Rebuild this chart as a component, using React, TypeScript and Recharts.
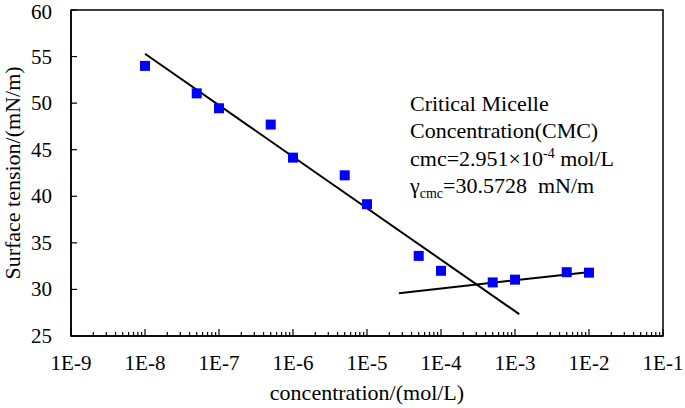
import React from "react";
import {
  ComposedChart,
  Scatter,
  XAxis,
  YAxis,
  ReferenceArea,
  Label,
} from "recharts";

const FONT = '"Liberation Serif", "Times New Roman", serif';

// measured points
const concentration = [1e-8, 5e-8, 1e-7, 5e-7, 1e-6, 5e-6, 1e-5, 5e-5, 1e-4, 5e-4, 1e-3, 5e-3, 1e-2];
const surfaceTension = [54.0, 51.05, 49.45, 47.7, 44.15, 42.25, 39.15, 33.6, 32.0, 30.75, 31.05, 31.85, 31.8];

// fitted lines (end points)
const belowCmcX = [1e-8, 1.14e-3];
const belowCmcY = [55.3, 27.35];
const aboveCmcX = [2.7e-5, 1.11e-2];
const aboveCmcY = [29.6, 31.9];

const decadeValues = [1e-9, 1e-8, 1e-7, 1e-6, 1e-5, 1e-4, 1e-3, 1e-2, 1e-1];
const decadeLabels = ["1E-9", "1E-8", "1E-7", "1E-6", "1E-5", "1E-4", "1E-3", "1E-2", "1E-1"];
const minorSteps = [1, 2, 3, 4, 5, 6, 7, 8, 9];
const yTicks = [25, 30, 35, 40, 45, 50, 55, 60];

const points = concentration.map((x, i) => ({ x, y: surfaceTension[i] }));
const fitA = belowCmcX.map((x, i) => ({ x, y: belowCmcY[i] }));
const fitB = aboveCmcX.map((x, i) => ({ x, y: aboveCmcY[i] }));

const xTicks: number[] = [];
decadeValues.slice(0, -1).forEach((d) => minorSteps.forEach((k) => xTicks.push(k * d)));
xTicks.push(decadeValues[decadeValues.length - 1]);

const XTick = (props: any) => {
  const { x, y, payload } = props;
  const v = payload.value;
  const idx = decadeValues.findIndex((d) => Math.abs(d - v) / d < 1e-6);
  const major = idx >= 0;
  return (
    <g>
      <line x1={x} x2={x} y1={y} y2={y - (major ? 7 : 4)} stroke="#000" strokeWidth={1.2} />
      {major && (
        <text x={x} y={y + 34} textAnchor="middle" fontSize={21} fontFamily={FONT} fill="#000">
          {decadeLabels[idx]}
        </text>
      )}
    </g>
  );
};

const YTick = (props: any) => {
  const { x, y, payload } = props;
  // keep the top label's glyph box inside the page
  const base = Math.max(y + 7, 19);
  return (
    <g>
      <line x1={x} x2={x + 6} y1={y} y2={y} stroke="#000" strokeWidth={1.2} />
      <text x={x - 19} y={base} textAnchor="end" fontSize={21} fontFamily={FONT} fill="#000">
        {payload.value}
      </text>
    </g>
  );
};

const Square = (p: any) => (
  <rect x={p.cx - 5} y={p.cy - 5} width={10} height={10} fill="#0000FF" />
);

export default function App() {
  return (
    <div style={{ position: "absolute", left: 0, top: 0, width: 685, height: 408, background: "#fff" }}>
      <ComposedChart width={685} height={408} margin={{ top: 10, right: 22, bottom: 0, left: 0 }}>
        <XAxis
          dataKey="x"
          type="number"
          scale="log"
          domain={[1e-9, 1e-1]}
          allowDataOverflow
          ticks={xTicks}
          interval={0}
          tick={<XTick />}
          tickSize={0}
          tickMargin={0}
          tickLine={false}
          axisLine={{ stroke: "#000", strokeWidth: 1.5 }}
          height={72}
        >
          <Label
            value="concentration/(mol/L)"
            position="insideBottom"
            offset={8}
            style={{ fontSize: 22, fontFamily: FONT, fill: "#000" }}
          />
        </XAxis>
        <YAxis
          dataKey="y"
          type="number"
          domain={[25, 60]}
          ticks={yTicks}
          interval={0}
          tick={<YTick />}
          tickSize={0}
          tickMargin={0}
          tickLine={false}
          axisLine={{ stroke: "#000", strokeWidth: 1.5 }}
          width={71}
        >
          <Label
            value="Surface tension/(mN/m)"
            angle={-90}
            position="insideLeft"
            offset={12}
            style={{ fontSize: 22, fontFamily: FONT, fill: "#000", textAnchor: "middle" }}
          />
        </YAxis>
        <ReferenceArea x1={1e-9} x2={1e-1} y1={25} y2={60} fill="none" stroke="#000" strokeWidth={1.5} />
        <Scatter data={fitA} line={{ stroke: "#000", strokeWidth: 2 }} shape={() => <g />} isAnimationActive={false} />
        <Scatter data={fitB} line={{ stroke: "#000", strokeWidth: 2 }} shape={() => <g />} isAnimationActive={false} />
        <Scatter data={points} shape={<Square />} isAnimationActive={false} />
      </ComposedChart>
      <div
        style={{
          position: "absolute",
          left: 410,
          top: 90,
          fontFamily: FONT,
          fontSize: 22,
          lineHeight: "27.3px",
          color: "#000",
          whiteSpace: "nowrap",
        }}
      >
        <div>Critical Micelle</div>
        <div>Concentration(CMC)</div>
        <div>
          cmc=2.951×10<sup style={{ fontSize: 14, lineHeight: 0 }}>-4</sup> mol/L
        </div>
        <div>
          γ<sub style={{ fontSize: 14, lineHeight: 0 }}>cmc</sub>=30.5728&nbsp; mN/m
        </div>
      </div>
    </div>
  );
}
